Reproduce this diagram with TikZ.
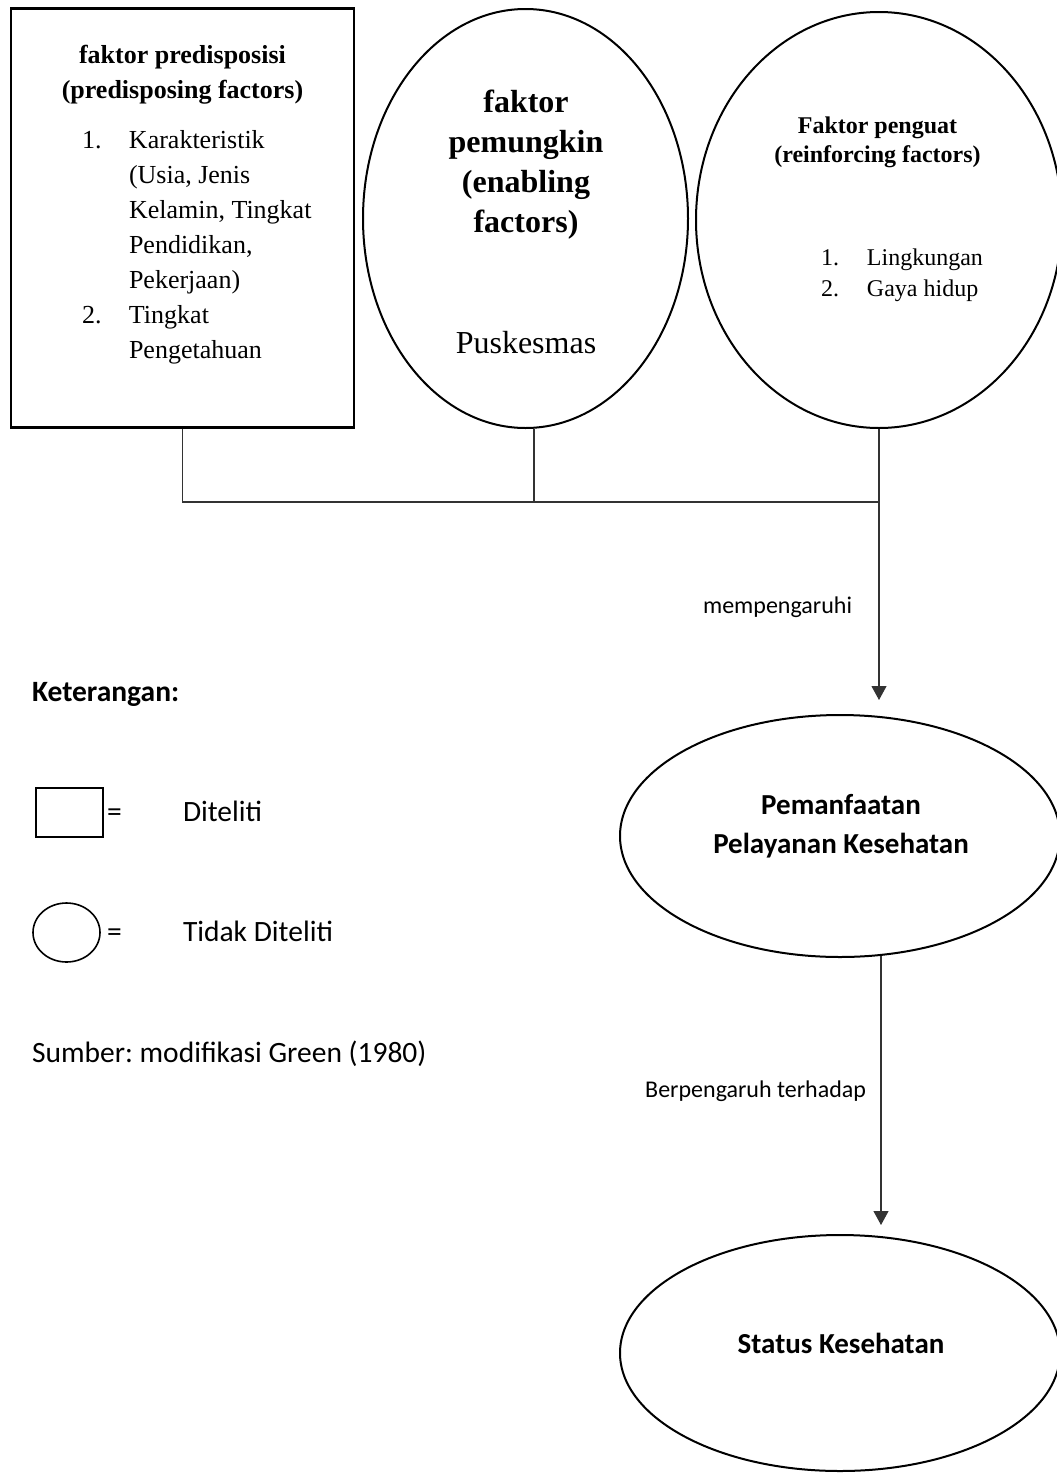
\documentclass[tikz,border=0pt]{standalone}
\usepackage{fontspec}
\setmainfont{Liberation Serif}
\newfontfamily\calfont{Carlito}
\usetikzlibrary{arrows.meta,shapes.geometric}
\frenchspacing
\begin{document}
\begin{tikzpicture}[x=1pt,y=-1pt,
  shapeline/.style={draw=black,line width=2pt},
  boxshape/.style={shapeline,line width=2.3pt,rectangle,inner sep=0pt},
  ellshape/.style={shapeline,ellipse,inner sep=0pt},
  conn/.style={draw=black!80,line width=1.1pt},
  arr/.style={conn,-{Triangle[width=15pt,length=14pt]}},
  txt/.style={inner sep=0pt,outer sep=0pt},
  tmsA/.style={font=\fontsize{26}{35}\selectfont},
  tmsB/.style={font=\fontsize{32}{40}\selectfont},
  tmsC/.style={font=\fontsize{24}{29}\selectfont},
  tmsD/.style={font=\fontsize{24}{31}\selectfont},
  calA/.style={font=\calfont\fontsize{29.5}{35}\selectfont},
  calB/.style={font=\calfont\fontsize{24}{29}\selectfont},
  calC/.style={font=\calfont\bfseries\fontsize{29}{39}\selectfont}
]
\useasboundingbox (0,0) rectangle (1057,1475);
\fill[white] (0,0) rectangle (1057,1475);

% top shapes
\node[boxshape,minimum width=343pt,minimum height=419pt] (pre) at (182.5,218) {};
\node[ellshape,minimum width=325pt,minimum height=419pt] (en) at (525.5,218.5) {};
\node[ellshape,minimum width=366pt,minimum height=416pt] (re) at (879,220) {};

% texts in box
\node[txt,tmsA,anchor=base] (preT) at (182.5,63)
  {\begin{tabular}[t]{@{}c@{}}\bfseries faktor predisposisi\\ \bfseries (predisposing factors)\end{tabular}};
\node[txt,tmsA,anchor=base west] (preL) at (82,148)
  {\begin{tabular}[t]{@{}p{47pt}@{}l@{}}1. & Karakteristik\\ & (Usia, Jenis\\ & Kelamin, Tingkat\\ & Pendidikan,\\ & Pekerjaan)\\ 2. & Tingkat\\ & Pengetahuan\end{tabular}};

% texts in enabling ellipse
\node[txt,tmsB,anchor=base] (enT) at (526,112)
  {\begin{tabular}[t]{@{}c@{}}\bfseries faktor\\ \bfseries pemungkin\\ \bfseries (enabling\\ \bfseries factors)\end{tabular}};
\node[txt,tmsB,anchor=base] (enP) at (526,353) {Puskesmas};

% texts in reinforcing ellipse
\node[txt,tmsC,anchor=base] (reT) at (877.5,133)
  {\begin{tabular}[t]{@{}c@{}}\bfseries Faktor penguat\\ \bfseries (reinforcing factors)\end{tabular}};
\node[txt,tmsD,anchor=base west] (reL) at (821,265)
  {\begin{tabular}[t]{@{}p{46pt}@{}l@{}}1. & Lingkungan\\ 2. & Gaya hidup\end{tabular}};

% lower ellipses
\node[ellshape,minimum width=440pt,minimum height=242pt] (pm) at (840,836) {};
\node[txt,calC,anchor=base] (pmT) at (841,814)
  {\begin{tabular}[t]{@{}c@{}}Pemanfaatan\\ Pelayanan Kesehatan\end{tabular}};
\node[ellshape,minimum width=440pt,minimum height=236pt] (st) at (840,1353) {};
\node[txt,calC,anchor=base] (stT) at (841,1353) {Status Kesehatan};

% connectors
\coordinate (j1) at (182.5,502);
\coordinate (j2) at (534,502);
\coordinate (j3) at (879,502);
\coordinate (tip1) at (879,700);
\coordinate (b1) at (881,956);
\coordinate (tip2) at (881,1225);
\draw[conn] (pre.south) -- (j1) -- (j3);
\draw[conn] (en.south -| j2) -- (j2);
\draw[arr] (re.south) -- (tip1);
\draw[arr] (b1) -- (tip2);
\node[txt,calB,anchor=base east] (lab1) at (852,613) {mempengaruhi};
\node[txt,calB,anchor=base east] (lab2) at (866,1097) {Berpengaruh terhadap};

% legend
\node[txt,anchor=base west,font=\calfont\bfseries\fontsize{29.5}{35}\selectfont] (ket) at (32,701) {Keterangan:};
\node[draw=black,line width=1.6pt,rectangle,inner sep=0pt,minimum width=67pt,minimum height=49pt] (lgBox) at (69.5,812.5) {};
\node[draw=black,line width=1.6pt,ellipse,inner sep=0pt,minimum width=67pt,minimum height=59pt] (lgEll) at (66.5,932.5) {};
\node[txt,calA,anchor=base west] (eq1) at (107,821) {=};
\node[txt,calA,anchor=base west] (eq2) at (107,941) {=};
\node[txt,calA,anchor=base west] (lg1) at (183,821) {Diteliti};
\node[txt,calA,anchor=base west] (lg2) at (183,941) {Tidak Diteliti};
\node[txt,calA,anchor=base west] (src) at (32,1062) {Sumber: modifikasi Green (1980)};
\end{tikzpicture}
\end{document}
